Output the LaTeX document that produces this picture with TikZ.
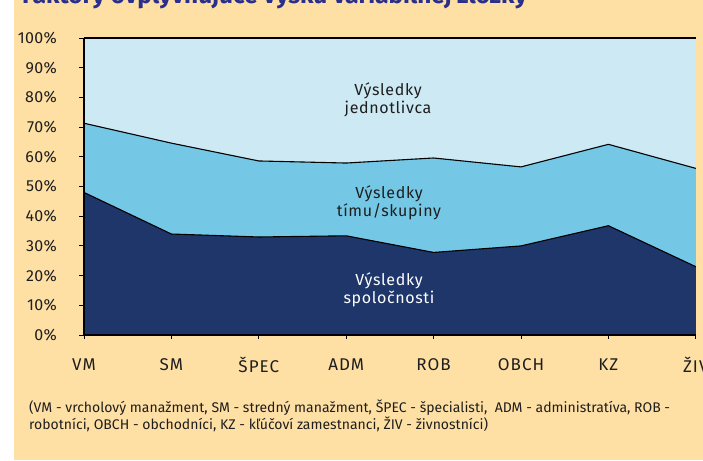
\documentclass[tikz,border=0pt]{standalone}
\usepackage{fontspec}
\setmainfont{Fira Sans}
\usepackage{tikz}
\usetikzlibrary{positioning}
\definecolor{bgyellow}{HTML}{FFE0A4}
\definecolor{dkblue}{HTML}{1F366B}
\definecolor{midblue}{HTML}{75C7E6}
\definecolor{ltblue}{HTML}{CDE9F4}
\definecolor{titleblue}{HTML}{2B2F8C}
\definecolor{textgrey}{HTML}{1E1E1E}
\tikzset{
	axisline/.style={draw=black, line width=1.3pt},
	boundary/.style={draw=black, line width=1.1pt, line join=round},
	tickmark/.style={draw=black, line width=0.9pt},
	ylabel/.style={font=\fontsize{16}{18}\selectfont\addfontfeature{LetterSpace=2}, text=textgrey, inner sep=0pt},
	xlabel/.style={font=\fontsize{17}{19}\selectfont\addfontfeature{LetterSpace=6}, text=textgrey, inner sep=0pt},
	arealabel/.style={font=\fontsize{16}{18.3}\selectfont\addfontfeature{LetterSpace=4}, align=center, text=textgrey, inner sep=0pt},
	notetext/.style={font=\fontsize{14}{14}\selectfont, align=left, text=textgrey, inner sep=0pt},
}

\begin{document}
\begin{tikzpicture}[x=1pt, y=-1pt]
		\path[use as bounding box] (0,0) rectangle (703,460);
		\clip (0,0) rectangle (703,460);
		% Background
		\fill[white] (0,0) rectangle (14,460);
		\fill[bgyellow] (14,0) rectangle (703,460);
		% Title (cut off at the top)
		\node[anchor=base west, inner sep=0pt, text=titleblue, font=\fontsize{24.4}{24}\selectfont\bfseries] (title) at (22,4) {Faktory ovplyvňujúce výšku variabilnej zložky};
		% Stacked areas
		\begin{scope}[shift={(84,335)}, x=87.4pt, y=2.97pt]
			\fill[ltblue] (0,0) rectangle (7,100);
			\fill[midblue] (0,0) -- (0,71.3) -- (1,64.6) -- (2,58.6) -- (3,57.9) -- (4,59.6) -- (5,56.6) -- (6,64.2) -- (7,56.1) -- (7,0) -- cycle;
			\fill[dkblue] (0,0) -- (0,48) -- (1,34) -- (2,33) -- (3,33.4) -- (4,27.8) -- (5,30) -- (6,36.8) -- (7,23) -- (7,0) -- cycle;
			\draw[boundary] (0,71.3) -- (1,64.6) -- (2,58.6) -- (3,57.9) -- (4,59.6) -- (5,56.6) -- (6,64.2) -- (7,56.1);
			\draw[boundary] (0,48) -- (1,34) -- (2,33) -- (3,33.4) -- (4,27.8) -- (5,30) -- (6,36.8) -- (7,23);
			% Axes
			\draw[axisline] (0,100) -- (7,100);
			\draw[axisline] (0,100) -- (0,0) -- (7,0);
			\foreach \v in {0,10,...,100} {
				\draw[tickmark] (0,\v) -- ++(-5pt,0);
				\node[ylabel, anchor=east] (ylab\v) at ([xshift=-27pt]0,\v) {\v\%};
			}
			\foreach \name [count=\i from 0] in {VM,SM,ŠPEC,ADM,ROB,OBCH,KZ,ŽIV} {
				\draw[tickmark] (\i,0) -- ++(0,-4pt);
				\node[xlabel] (xlab\i) at ([yshift=-30pt]\i,0) {\name};
			}
		\end{scope}
		% Area labels
		\node[arealabel] (indiv) at (388,100) {Výsledky\\jednotlivca};
		\node[arealabel] (team) at (389,203) {Výsledky\\tímu/skupiny};
		\node[arealabel, text=white] (firm) at (389,290) {Výsledky\\spoločnosti};
		% Note
		\node[notetext, anchor=north west] (note) at (29,400) {(VM - vrcholový manažment, SM - stredný manažment, ŠPEC - špecialisti,\ \ ADM - administratíva, ROB -\\robotníci, OBCH - obchodníci, KZ - kľúčoví zamestnanci, ŽIV - živnostníci)};
\end{tikzpicture}
\end{document}
